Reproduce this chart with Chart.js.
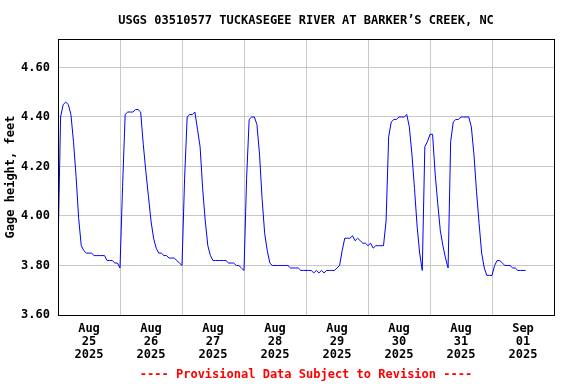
<!DOCTYPE html>
<html>
<head>
<meta charset="utf-8">
<title>USGS 03510577 gage height</title>
<script src="https://cdn.jsdelivr.net/npm/chart.js@4.4.0/dist/chart.umd.min.js"></script>
<style>
  html, body { margin: 0; padding: 0; background: #fff; }
  canvas { display: block; }
</style>
</head>
<body>
<canvas id="gage" width="576" height="384"></canvas>
<script>
const TITLE = "USGS 03510577 TUCKASEGEE RIVER AT BARKER’S CREEK, NC";
const FOOTER = "---- Provisional Data Subject to Revision ----";
const Y_LABEL = "Gage height, feet";

// one label per day, shown at noon
const dayMonths = ["Aug", "Aug", "Aug", "Aug", "Aug", "Aug", "Aug", "Sep"];
const dayNums = ["25", "26", "27", "28", "29", "30", "31", "01"];
const dayYears = ["2025", "2025", "2025", "2025", "2025", "2025", "2025", "2025"];

const yTicks = [3.6, 3.8, 4.0, 4.2, 4.4, 4.6];

// hourly gage height, feet, day by day from 00:00
const aug25 = [3.86, 4.40, 4.45, 4.46, 4.45, 4.41, 4.30, 4.16, 3.99, 3.88, 3.86, 3.85,
               3.85, 3.85, 3.84, 3.84, 3.84, 3.84, 3.84, 3.82, 3.82, 3.82, 3.81, 3.81];
const aug26 = [3.79, 4.12, 4.41, 4.42, 4.42, 4.42, 4.43, 4.43, 4.42, 4.29, 4.18, 4.08,
               3.98, 3.91, 3.87, 3.85, 3.85, 3.84, 3.84, 3.83, 3.83, 3.83, 3.82, 3.81];
const aug27 = [3.80, 4.15, 4.40, 4.41, 4.41, 4.42, 4.35, 4.28, 4.11, 3.98, 3.88, 3.84,
               3.82, 3.82, 3.82, 3.82, 3.82, 3.82, 3.81, 3.81, 3.81, 3.80, 3.80, 3.79];
const aug28 = [3.78, 4.15, 4.39, 4.40, 4.40, 4.37, 4.25, 4.07, 3.93, 3.86, 3.81, 3.80,
               3.80, 3.80, 3.80, 3.80, 3.80, 3.80, 3.79, 3.79, 3.79, 3.79, 3.78, 3.78];
const aug29 = [3.78, 3.78, 3.78, 3.77, 3.78, 3.77, 3.78, 3.77, 3.78, 3.78, 3.78, 3.78,
               3.79, 3.80, 3.86, 3.91, 3.91, 3.91, 3.92, 3.90, 3.91, 3.90, 3.89, 3.89];
const aug30 = [3.88, 3.89, 3.87, 3.88, 3.88, 3.88, 3.88, 3.98, 4.32, 4.38, 4.39, 4.39,
               4.40, 4.40, 4.40, 4.41, 4.36, 4.25, 4.11, 3.96, 3.85, 3.78, 4.28, 4.30];
const aug31 = [4.33, 4.33, 4.17, 4.05, 3.94, 3.88, 3.83, 3.79, 4.30, 4.38, 4.39, 4.39,
               4.40, 4.40, 4.40, 4.40, 4.36, 4.25, 4.10, 3.97, 3.85, 3.79, 3.76, 3.76];
const sep01 = [3.76, 3.80, 3.82, 3.82, 3.81, 3.80, 3.80, 3.80, 3.79, 3.79, 3.78, 3.78,
               3.78, 3.78];

const gageHeight = [].concat(aug25, aug26, aug27, aug28, aug29, aug30, aug31, sep01);

const FONT = "'DejaVu Sans Mono', 'Liberation Mono', monospace";

// white background, frame round the plot, title and footer
const decorPlugin = {
  id: "decor",
  beforeDraw(chart) {
    const ctx = chart.ctx;
    ctx.save();
    ctx.fillStyle = "#fff";
    ctx.fillRect(0, 0, chart.width, chart.height);
    ctx.restore();
  },
  afterDraw(chart) {
    const { ctx, chartArea: a } = chart;
    const cx = (a.left + a.right) / 2;
    ctx.save();
    ctx.strokeStyle = "#000";
    ctx.lineWidth = 1;
    ctx.strokeRect(a.left + 0.5, a.top + 0.5, a.right - a.left, a.bottom - a.top);
    ctx.textAlign = "center";
    ctx.textBaseline = "middle";
    ctx.font = "bold 12px " + FONT;
    ctx.fillStyle = "#000";
    ctx.fillText(TITLE, cx, 21);
    ctx.fillStyle = "#ff0000";
    ctx.fillText(FOOTER, cx, 375);
    ctx.restore();
  },
};

new Chart(document.getElementById("gage"), {
  type: "line",
  data: {
    datasets: [{
      data: gageHeight.map((v, i) => ({ x: i, y: v })),
      borderColor: "#0000ff",
      borderWidth: 1,
      pointRadius: 0,
      fill: false,
      tension: 0,
    }],
  },
  options: {
    responsive: false,
    animation: false,
    layout: { padding: { top: 39, right: 22, left: 0, bottom: 0 } },
    plugins: {
      legend: { display: false },
      tooltip: { enabled: false },
    },
    scales: {
      x: {
        type: "linear",
        min: 0,
        max: 192,
        afterBuildTicks: (s) => { s.ticks = dayNums.map((_, i) => ({ value: 12 + 24 * i })); },
        afterFit: (s) => { s.height = 69; },
        ticks: {
          autoSkip: false,
          maxRotation: 0,
          padding: 8,
          color: "#000",
          font: { family: FONT, size: 12, weight: "bold", lineHeight: 1.05 },
          callback: (v, i) => [dayMonths[i], dayNums[i], dayYears[i]],
        },
        grid: { offset: true, color: "#c8c8c8", drawTicks: false },
        border: { display: false },
      },
      y: {
        min: 3.6,
        max: 4.715,
        afterBuildTicks: (s) => { s.ticks = yTicks.map((v) => ({ value: v })); },
        afterFit: (s) => { s.width = 58; },
        ticks: {
          padding: 8,
          color: "#000",
          font: { family: FONT, size: 12, weight: "bold" },
          callback: (v) => Number(v).toFixed(2),
        },
        grid: { color: "#c8c8c8", drawTicks: false },
        border: { display: false },
        title: {
          display: true,
          text: Y_LABEL,
          color: "#000",
          font: { family: FONT, size: 12, weight: "bold" },
          padding: { top: 4, bottom: 0 },
        },
      },
    },
  },
  plugins: [decorPlugin],
});
</script>
</body>
</html>
